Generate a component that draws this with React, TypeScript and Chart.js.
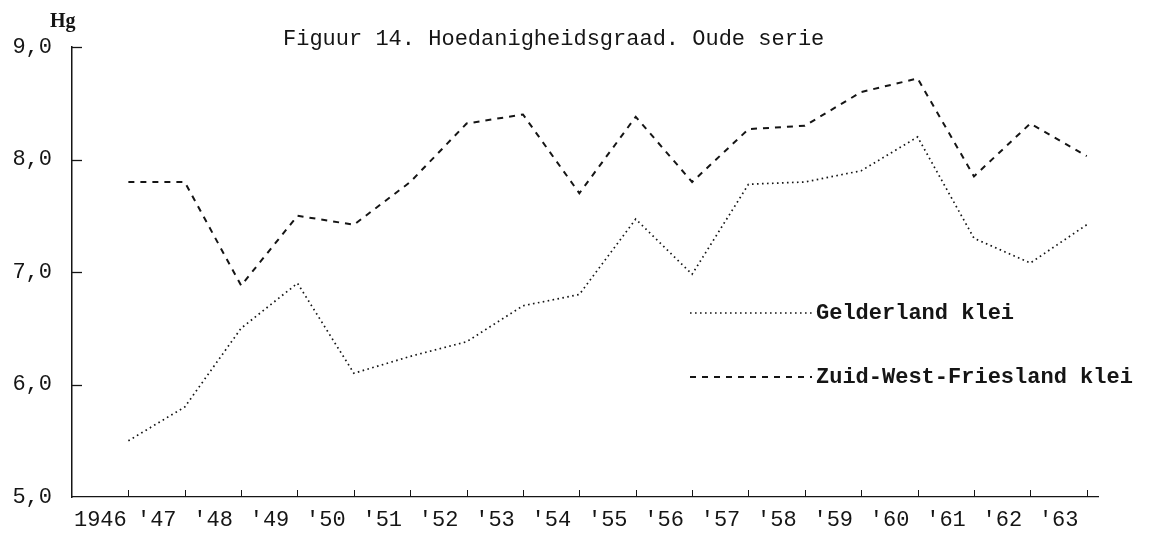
import React, { useEffect, useRef } from 'react';
import { Chart, registerables } from 'chart.js';

Chart.register(...registerables);

// ---- data ----
const years = [1946, 1947, 1948, 1949, 1950, 1951, 1952, 1953, 1954, 1955, 1956, 1957, 1958, 1959, 1960, 1961, 1962, 1963];
const yearLabels = ['1946', "'47", "'48", "'49", "'50", "'51", "'52", "'53", "'54", "'55", "'56", "'57", "'58", "'59", "'60", "'61", "'62", "'63"];
const gelderlandKlei = [5.5, 5.8, 6.5, 6.9, 6.1, 6.25, 6.38, 6.7, 6.8, 7.47, 6.98, 7.78, 7.8, 7.9, 8.2, 7.3, 7.08, 7.42];
const zwFrieslandKlei = [7.8, 7.8, 6.88, 7.5, 7.42, 7.8, 8.32, 8.4, 7.7, 8.38, 7.8, 8.27, 8.3, 8.6, 8.72, 7.85, 8.32, 8.03];
const yTickValues = [5, 6, 7, 8, 9];
const seriesNames = ['Gelderland klei', 'Zuid-West-Friesland klei'];
const chartTitle = 'Figuur 14. Hoedanigheidsgraad. Oude serie';
const unitLabel = 'Hg';

const INK = '#151515';
const MONO = '"Liberation Mono", "DejaVu Sans Mono", monospace';
const DOT_DASH = [1.6, 3.4];
const LONG_DASH = [6, 6];

const overlayPlugin = {
  id: 'overlay',
  afterDraw(chart: any) {
    const { ctx, chartArea, scales } = chart;
    const xs = scales.x;
    const ys = scales.y;
    ctx.save();
    ctx.strokeStyle = INK;
    ctx.lineWidth = 1.3;
    // inner tick marks on y axis
    yTickValues.forEach((v) => {
      if (v === yTickValues[0]) return;
      const py = Math.round(ys.getPixelForValue(v)) + 0.5;
      ctx.beginPath();
      ctx.moveTo(chartArea.left, py);
      ctx.lineTo(chartArea.left + 10, py);
      ctx.stroke();
    });
    // inner tick marks on x axis
    ctx.lineWidth = 1;
    years.forEach((v) => {
      const px = Math.round(xs.getPixelForValue(v)) + 0.5;
      ctx.beginPath();
      ctx.moveTo(px, chartArea.bottom);
      ctx.lineTo(px, chartArea.bottom - 7);
      ctx.stroke();
    });

    // title
    ctx.fillStyle = INK;
    ctx.textBaseline = 'middle';
    ctx.textAlign = 'left';
    ctx.font = `22px ${MONO}`;
    ctx.fillText(chartTitle, chartArea.left + 211, 39);
    // unit label
    ctx.font = 'bold 20px "Liberation Serif", serif';
    ctx.fillText(unitLabel, chartArea.left - 22, 22);

    // legend
    const datasets = chart.data.datasets;
    const legendRows = [313, 377];
    datasets.forEach((ds: any, i: number) => {
      const ly = legendRows[i];
      ctx.save();
      ctx.strokeStyle = ds.borderColor;
      ctx.lineWidth = ds.borderWidth;
      ctx.setLineDash(ds.borderDash);
      ctx.beginPath();
      ctx.moveTo(690, ly);
      ctx.lineTo(812, ly);
      ctx.stroke();
      ctx.restore();
      ctx.font = `bold 22px ${MONO}`;
      ctx.fillStyle = INK;
      ctx.fillText(ds.label, 816, ly);
    });
    ctx.restore();
  },
};

export default function App() {
  const canvasRef = useRef<HTMLCanvasElement | null>(null);

  useEffect(() => {
    document.body.style.margin = '0';
    const canvas = canvasRef.current;
    if (!canvas) return;
    const chart = new Chart(canvas, {
      type: 'line',
      data: {
        datasets: [
          {
            label: seriesNames[0],
            data: years.map((x, i) => ({ x, y: gelderlandKlei[i] })),
            borderColor: INK,
            borderWidth: 1.7,
            borderDash: DOT_DASH,
            pointRadius: 0,
            tension: 0,
            fill: false,
          },
          {
            label: seriesNames[1],
            data: years.map((x, i) => ({ x, y: zwFrieslandKlei[i] })),
            borderColor: INK,
            borderWidth: 2,
            borderDash: LONG_DASH,
            pointRadius: 0,
            tension: 0,
            fill: false,
          },
        ],
      },
      options: {
        animation: false,
        responsive: true,
        maintainAspectRatio: false,
        layout: { padding: { left: 0, right: 54, top: 47, bottom: 0 } },
        plugins: {
          legend: { display: false },
          title: { display: false },
          tooltip: { enabled: false },
        },
        scales: {
          x: {
            type: 'linear',
            position: 'bottom',
            min: 1945,
            max: 1963.2,
            grid: { display: false, drawTicks: false, tickLength: 0 },
            border: { display: true, color: INK, width: 1.3 },
            afterBuildTicks: (scale: any) => {
              scale.ticks = years.map((v) => ({ value: v }));
            },
            afterFit: (scale: any) => {
              scale.height = 44;
            },
            ticks: {
              autoSkip: false,
              maxRotation: 0,
              minRotation: 0,
              padding: 10,
              labelOffset: -28,
              color: INK,
              font: { family: MONO, size: 22 },
              callback: (value: any) => {
                const idx = years.indexOf(Number(value));
                return idx >= 0 ? yearLabels[idx] : '';
              },
            },
          },
          y: {
            type: 'linear',
            min: 5,
            max: 9,
            grid: { display: false, drawTicks: false, tickLength: 0 },
            border: { display: true, color: INK, width: 1.5 },
            afterBuildTicks: (scale: any) => {
              scale.ticks = yTickValues.map((v) => ({ value: v }));
            },
            afterFit: (scale: any) => {
              scale.width = 72;
            },
            ticks: {
              padding: 20,
              color: INK,
              font: { family: MONO, size: 22 },
              callback: (value: any) => Number(value).toFixed(1).replace('.', ','),
            },
          },
        },
      },
      plugins: [overlayPlugin],
    });
    return () => chart.destroy();
  }, []);

  return (
    <div style={{ position: 'fixed', left: 0, top: 0, width: 1152, height: 541, background: '#fff' }}>
      <canvas ref={canvasRef} />
    </div>
  );
}
